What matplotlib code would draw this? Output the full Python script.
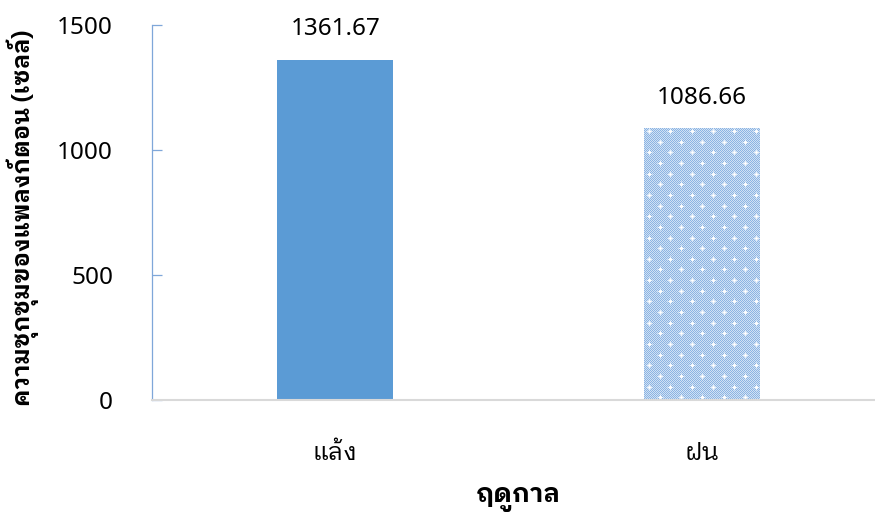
import numpy as np
import matplotlib
matplotlib.use("Agg")
import matplotlib.pyplot as plt
from matplotlib.colors import to_rgb

THAI = ['IBM Plex Sans Thai Looped', 'Noto Sans Thai Looped', 'DejaVu Sans']
NUM = ['Noto Sans', 'DejaVu Sans']
plt.rcParams['font.family'] = NUM

# data
seasons = ['แล้ง', 'ฝน']
abundance = [1361.67, 1086.66]
value_labels = ['1361.67', '1086.66']
y_ticks = [0, 500, 1000, 1500]

x_title = 'ฤดูกาล'
y_title = 'ความชุกชุมของแพลงก์ตอน (เซลล์)'

W, H, DPI = 875, 514, 100
fig = plt.figure(figsize=(W / DPI, H / DPI), dpi=DPI)
ax = fig.add_axes([152 / W, 1 - 400 / H, 733 / W, 375 / H])

solid_blue = '#5b9bd5'
bar_width = 0.316
x = np.arange(len(seasons))

bars = ax.bar(x, abundance, width=bar_width, color=solid_blue, zorder=2)

ax.set_xlim(-0.5, len(seasons) - 0.5)
ax.set_ylim(0, 1500)


def dotted_texture(w, h, c_dark, c_light, period=21.3):
    """Fine blue checker with white star dots on a diamond lattice."""
    yy, xx = np.mgrid[0:h, 0:w]
    checker = ((xx + yy) % 2 == 0)
    img = np.where(checker[..., None], np.array(c_dark), np.array(c_light)).astype(float)
    white = np.ones(3)
    half = period / 2
    nrows = int(h / half) + 2
    ncols = int(w / period) + 2
    star = [(0, 0, 1.0),
            (-1, 0, 0.95), (1, 0, 0.95), (0, -1, 0.95), (0, 1, 0.95),
            (-2, 0, 0.7), (2, 0, 0.7), (0, -2, 0.7), (0, 2, 0.7),
            (-3, 0, 0.35), (3, 0, 0.35), (0, -3, 0.35), (0, 3, 0.35),
            (-1, -1, 0.6), (-1, 1, 0.6), (1, -1, 0.6), (1, 1, 0.6)]
    for r in range(nrows):
        cy = int(round(r * half + 3))
        off = half if r % 2 else 0.0
        for c in range(-1, ncols):
            cx = int(round(c * period + off + 5))
            for dy, dx, a in star:
                py, px = cy + dy, cx + dx
                if 0 <= py < h and 0 <= px < w:
                    img[py, px] = img[py, px] * (1 - a) + white * a
    return img


# second bar gets the dotted light-blue fill
fig.canvas.draw()
patch = bars.patches[1]
x0, x1 = patch.get_x(), patch.get_x() + patch.get_width()
y1 = patch.get_height()
(px0, py0), (px1, py1) = ax.transData.transform([(x0, 0), (x1, y1)])
tw, th = int(round(px1 - px0)), int(round(py1 - py0))
tex = dotted_texture(tw, th, to_rgb('#8cb4e2'), to_rgb('#d0e1f5'))
patch.set_facecolor('none')
im = ax.imshow(tex, extent=(x0, x1, 0, y1), origin='upper', interpolation='nearest',
               aspect='auto', zorder=2)
im.set_clip_path(patch)
ax.set_xlim(-0.5, len(seasons) - 0.5)
ax.set_ylim(0, 1500)
ax.set_aspect('auto')

# value labels above bars
for xi, v, lab in zip(x, abundance, value_labels):
    ax.annotate(lab, xy=(xi, v), xytext=(0, 17.7), textcoords='offset points',
                ha='center', va='baseline', fontsize=17.5, color='#000000')

# axes styling
for side in ('top', 'right'):
    ax.spines[side].set_visible(False)
ax.spines['left'].set_color('#7fa7d9')
ax.spines['left'].set_linewidth(0.9)
ax.spines['bottom'].set_color('#d9d9d9')
ax.spines['bottom'].set_linewidth(1.5)
ax.spines['bottom'].set_zorder(3)

ax.set_yticks(y_ticks)
ax.set_yticklabels([str(t) for t in y_ticks])
ax.tick_params(axis='y', direction='in', length=7.5, width=0.9, color='#7fa7d9',
               pad=28, labelsize=17.5, labelcolor='#000000')
ax.set_xticks(x)
ax.set_xticklabels(seasons, family=THAI)
ax.tick_params(axis='x', length=0, pad=43.2, labelsize=18, labelcolor='#000000')
for t in ax.get_xticklabels():
    t.set_va('baseline')

ax.set_xlabel(x_title, fontsize=18.5, fontweight='bold', family=THAI)
ax.xaxis.set_label_coords(0.5, -102 / 375)
ax.xaxis.label.set_va('baseline')

fig.text(30 / W, 1 - 218 / H, y_title, rotation=90, rotation_mode='anchor',
         ha='center', va='baseline', fontsize=17, fontweight='bold', family=THAI)

fig.savefig('out.png', dpi=DPI)
